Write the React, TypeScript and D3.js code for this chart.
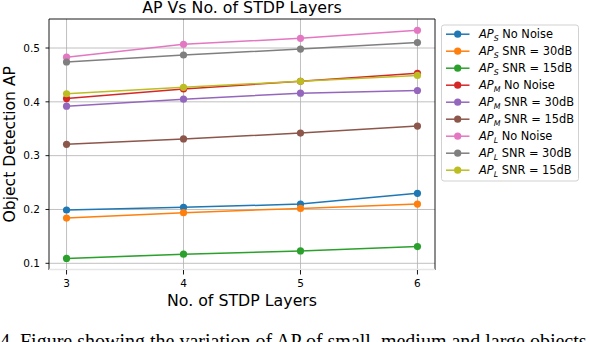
import React from 'react';
import * as d3 from 'd3';

// STDP layer counts on the x axis
const layers = [3, 4, 5, 6];

// AP values, one array per series
const apSNoNoise = [0.199, 0.204, 0.21, 0.23];
const apS30 = [0.184, 0.194, 0.202, 0.21];
const apS15 = [0.109, 0.117, 0.123, 0.131];
const apMNoNoise = [0.406, 0.424, 0.438, 0.453];
const apM30 = [0.392, 0.405, 0.416, 0.421];
const apM15 = [0.321, 0.331, 0.342, 0.355];
const apLNoNoise = [0.483, 0.507, 0.518, 0.533];
const apL30 = [0.474, 0.487, 0.498, 0.51];
const apL15 = [0.415, 0.427, 0.438, 0.449];

const yTicks = [0.1, 0.2, 0.3, 0.4, 0.5];

const seriesNames = [
  ['S', 'No Noise'], ['S', 'SNR = 30dB'], ['S', 'SNR = 15dB'],
  ['M', 'No Noise'], ['M', 'SNR = 30dB'], ['M', 'SNR = 15dB'],
  ['L', 'No Noise'], ['L', 'SNR = 30dB'], ['L', 'SNR = 15dB'],
];
const seriesValues = [apSNoNoise, apS30, apS15, apMNoNoise, apM30, apM15, apLNoNoise, apL30, apL15];
const colors = ['#1f77b4', '#ff7f0e', '#2ca02c', '#d62728', '#9467bd', '#8c564b', '#e377c2', '#7f7f7f', '#bcbd22'];

const W = 590, H = 342;
const left = 49, right = 435, top = 19, bottom = 269.5;
const font = 'DejaVu Sans, sans-serif';

export default function App() {
  const x = d3.scaleLinear().domain([2.85, 6.15]).range([left, right]);
  const y = d3.scaleLinear().domain([0.1, 0.5]).range([263.3, 48]);
  const line = d3.line<number>().x((d, i) => x(layers[i])).y(d => y(d));

  const legX = 441.5, legY = 25, rowH = 17;

  return (
    <svg width={W} height={H} style={{ position: 'absolute', left: 0, top: 0, background: '#fff' }}
      fontFamily={font}>
      <rect width={W} height={H} fill="#fff" />
      {/* grid */}
      {layers.map(t => (
        <line key={'gx' + t} x1={x(t)} x2={x(t)} y1={top} y2={bottom} stroke="#b0b0b0" strokeWidth={0.8} />
      ))}
      {yTicks.map(t => (
        <line key={'gy' + t} x1={left} x2={right} y1={y(t)} y2={y(t)} stroke="#b0b0b0" strokeWidth={0.8} />
      ))}
      {/* series */}
      {seriesValues.map((vals, k) => (
        <g key={'s' + k}>
          <path d={line(vals) || ''} fill="none" stroke={colors[k]} strokeWidth={1.5} />
          {vals.map((v, i) => (
            <circle key={i} cx={x(layers[i])} cy={y(v)} r={3.6} fill={colors[k]} />
          ))}
        </g>
      ))}
      {/* spines */}
      <line x1={left} x2={left} y1={top} y2={bottom + 0.5} stroke="#000" strokeWidth={0.9} />
      <line x1={right} x2={right} y1={top} y2={bottom + 0.5} stroke="#000" strokeWidth={0.9} />
      <line x1={left} x2={right} y1={top} y2={top} stroke="#000" strokeWidth={0.9} />
      <line x1={left} x2={right} y1={bottom} y2={bottom} stroke="#e6e6e6" strokeWidth={1.5} />
      {/* x ticks */}
      {layers.map(t => (
        <g key={'xt' + t}>
          <line x1={x(t)} x2={x(t)} y1={bottom + 0.5} y2={bottom + 5} stroke="#000" strokeWidth={0.9} />
          <text x={x(t)} y={286.5} fontSize={10.5} textAnchor="middle" fill="#000">{t}</text>
        </g>
      ))}
      {/* y ticks */}
      {yTicks.map(t => (
        <g key={'yt' + t}>
          <line x1={left - 3.5} x2={left} y1={y(t)} y2={y(t)} stroke="#000" strokeWidth={0.9} />
          <text x={40} y={y(t)} dy="0.35em" fontSize={10.5} textAnchor="end" fill="#000">{d3.format('.1f')(t)}</text>
        </g>
      ))}
      {/* titles */}
      <text x={(left + right) / 2} y={12.5} fontSize={15.8} textAnchor="middle" fill="#000">AP Vs No. of STDP Layers</text>
      <text x={(left + right) / 2} y={305.5} fontSize={15.8} textAnchor="middle" fill="#000">No. of STDP Layers</text>
      <text transform={`translate(14.5,${(top + bottom) / 2}) rotate(-90)`} fontSize={15.6} textAnchor="middle" fill="#000">Object Detection AP</text>
      {/* legend */}
      <rect x={legX} y={legY} width={137} height={156} rx={2.5} fill="#fff" fillOpacity={0.8} stroke="#cccccc" strokeWidth={0.9} />
      {seriesNames.map(([sub, label], k) => {
        const cy = legY + 9.2 + k * rowH;
        return (
          <g key={'lg' + k}>
            <line x1={446} x2={469.5} y1={cy} y2={cy} stroke={colors[k]} strokeWidth={1.5} />
            <circle cx={457.7} cy={cy} r={3.6} fill={colors[k]} />
            <text x={479} y={cy} dy="0.36em" fontSize={11.4} fill="#000">
              <tspan fontStyle="italic">AP</tspan>
              <tspan fontStyle="italic" fontSize={7.8} dy={2.5}>{sub}</tspan>
              <tspan dy={-2.5}>{' ' + label}</tspan>
            </text>
          </g>
        );
      })}
      {/* caption below the figure, cut off by the frame */}
      <text x={0} y={348} fontSize={20} fontFamily="Liberation Serif, serif" fill="#000">
        4. Figure showing the variation of AP of small, medium and large objects
      </text>
    </svg>
  );
}
